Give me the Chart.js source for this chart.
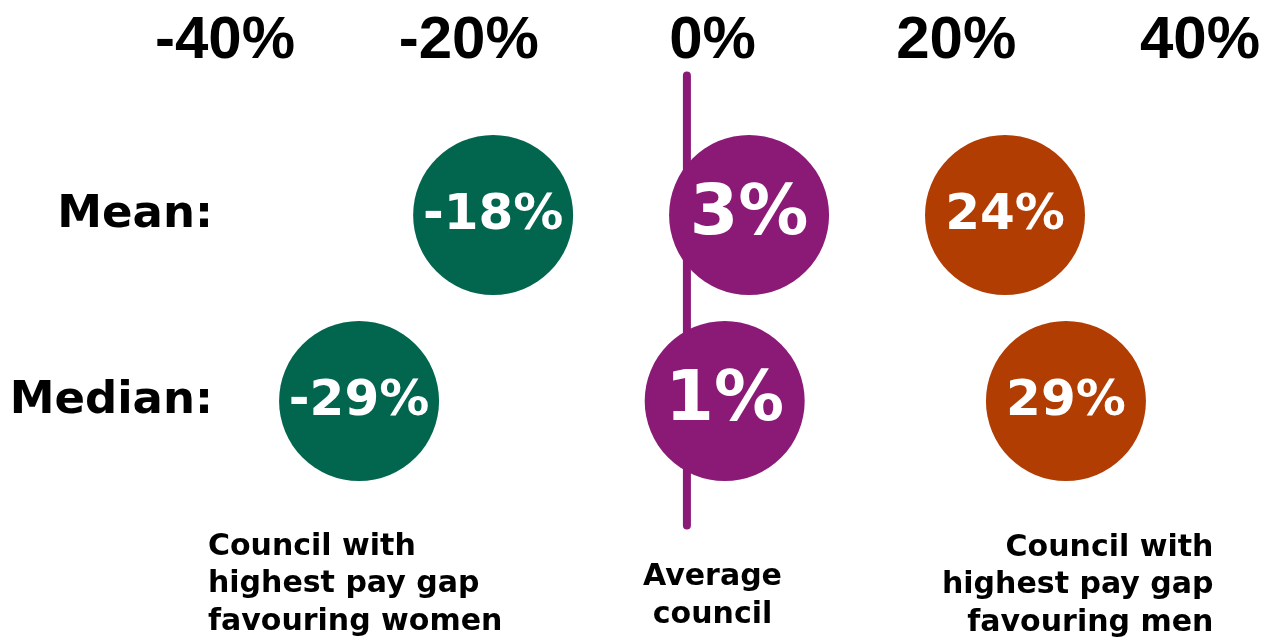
<!DOCTYPE html>
<html>
<head>
<meta charset="utf-8">
<script src="https://cdn.jsdelivr.net/npm/chart.js@4"></script>
<style>
  html, body { margin: 0; padding: 0; background: #fff; }
  #wrap { width: 1277px; height: 639px; }
</style>
</head>
<body>
<div id="wrap"><canvas id="gapChart"></canvas></div>
<script>
// values
const rowLabels = ['Mean:', 'Median:'];
const rowValues = [1, 2];
const womenGap = [-18, -29];
const averageGap = [3, 1];
const menGap = [24, 29];
const xTickValues = [-40, -20, 0, 20, 40];
const averageLineX = -2.1;
const averageLineSpan = [0.25, 2.67];

const GREEN = '#02664F';
const PURPLE = '#8B1A77';
const ORANGE = '#B13D03';

// notes under the circles, placed in axis units
const notes = [
  { lines: ['Council with', 'highest pay gap', 'favouring women'], x: -41.4, y: 2.785, align: 'left' },
  { lines: ['Average', 'council'], x: 0, y: 2.95, align: 'center' },
  { lines: ['Council with', 'highest pay gap', 'favouring men'], x: 41.1, y: 2.79, align: 'right' }
];

function toPoints(values) {
  return values.map((v, i) => ({ x: v, y: rowValues[i] }));
}

const bubbleLabels = {
  id: 'bubbleLabels',
  afterDatasetsDraw(chart) {
    const ctx = chart.ctx;
    ctx.save();
    ctx.fillStyle = '#fff';
    ctx.textAlign = 'center';
    ctx.textBaseline = 'middle';
    chart.data.datasets.forEach((ds, i) => {
      if (ds.type === 'line') return;
      const meta = chart.getDatasetMeta(i);
      ctx.font = 'bold ' + ds.labelSize + 'px "DejaVu Sans"';
      meta.data.forEach((el, j) => {
        ctx.fillText(ds.data[j].x + '%', el.x, el.y + 1);
      });
    });
    ctx.restore();
  }
};

const noteText = {
  id: 'noteText',
  afterDraw(chart) {
    const ctx = chart.ctx;
    const xs = chart.scales.x, ys = chart.scales.y;
    ctx.save();
    ctx.fillStyle = '#000';
    ctx.font = 'bold 30px "DejaVu Sans"';
    ctx.textBaseline = 'middle';
    notes.forEach(n => {
      ctx.textAlign = n.align;
      const px = xs.getPixelForValue(n.x);
      const py = ys.getPixelForValue(n.y);
      n.lines.forEach((line, k) => {
        ctx.fillText(line, px, py + k * 37.5);
      });
    });
    ctx.restore();
  }
};

new Chart(document.getElementById('gapChart'), {
  type: 'bubble',
  data: {
    datasets: [
      {
        type: 'line',
        data: averageLineSpan.map(y => ({ x: averageLineX, y: y })),
        borderColor: PURPLE,
        borderWidth: 8,
        borderCapStyle: 'round',
        pointRadius: 0,
        clip: false,
        order: 2
      },
      { label: 'Women', data: toPoints(womenGap), backgroundColor: GREEN, labelSize: 50, order: 1 },
      { label: 'Average', data: toPoints(averageGap), backgroundColor: PURPLE, labelSize: 70, order: 1 },
      { label: 'Men', data: toPoints(menGap), backgroundColor: ORANGE, labelSize: 50, order: 1 }
    ]
  },
  options: {
    responsive: true,
    maintainAspectRatio: false,
    animation: false,
    events: [],
    layout: { autoPadding: false, padding: { top: 0, left: 10, right: 77, bottom: 108 } },
    elements: { point: { radius: 80, borderWidth: 0, hoverRadius: 0 } },
    plugins: { legend: { display: false }, tooltip: { enabled: false } },
    scales: {
      x: {
        type: 'linear',
        position: 'top',
        min: -40,
        max: 40,
        grid: { display: false, drawTicks: false },
        border: { display: false },
        afterBuildTicks: s => { s.ticks = xTickValues.map(v => ({ value: v })); },
        afterFit: s => { s.height = 72; },
        ticks: {
          padding: -5,
          color: '#000',
          font: { family: '"Liberation Sans"', weight: 'bold', size: 60 },
          callback: v => v + '%'
        }
      },
      y: {
        type: 'linear',
        reverse: true,
        min: 0.231,
        max: 2.699,
        grid: { display: false, drawTicks: false },
        border: { display: false },
        afterBuildTicks: s => { s.ticks = rowValues.map(v => ({ value: v })); },
        afterFit: s => { s.width = 215; },
        ticks: {
          padding: 12,
          color: '#000',
          font: { family: '"DejaVu Sans"', weight: 'bold', size: 45 },
          callback: v => rowLabels[rowValues.indexOf(v)]
        }
      }
    }
  },
  plugins: [bubbleLabels, noteText]
});
</script>
</body>
</html>
